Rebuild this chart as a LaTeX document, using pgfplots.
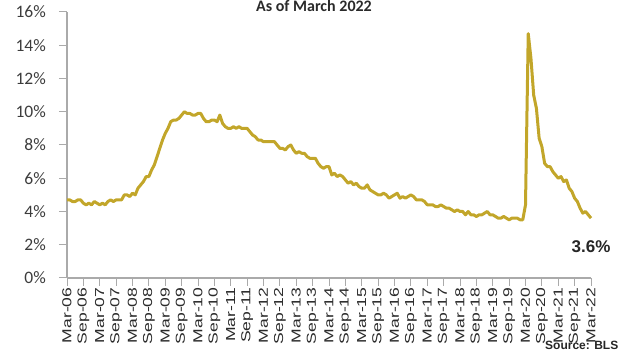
\documentclass[border=0pt]{standalone}
\usepackage{pgfplots}
\pgfplotsset{compat=1.18}
\usepackage{pgfplotstable}
\usepackage{fontspec}
\setmainfont{Liberation Sans}
\newfontfamily\calib{Carlito}
\definecolor{linegold}{RGB}{194,166,42}
\definecolor{axgray}{RGB}{170,170,170}
\definecolor{txt}{RGB}{60,60,60}
\pgfplotstableread{
idx val
0 4.7
1 4.7
2 4.6
3 4.6
4 4.7
5 4.7
6 4.5
7 4.4
8 4.5
9 4.4
10 4.6
11 4.5
12 4.4
13 4.5
14 4.4
15 4.6
16 4.7
17 4.6
18 4.7
19 4.7
20 4.7
21 5.0
22 5.0
23 4.9
24 5.1
25 5.0
26 5.4
27 5.6
28 5.8
29 6.1
30 6.1
31 6.5
32 6.8
33 7.3
34 7.8
35 8.3
36 8.7
37 9.0
38 9.4
39 9.5
40 9.5
41 9.6
42 9.8
43 10.0
44 9.9
45 9.9
46 9.8
47 9.8
48 9.9
49 9.9
50 9.6
51 9.4
52 9.4
53 9.5
54 9.5
55 9.4
56 9.8
57 9.3
58 9.1
59 9.0
60 9.0
61 9.1
62 9.0
63 9.1
64 9.0
65 9.0
66 9.0
67 8.8
68 8.6
69 8.5
70 8.3
71 8.3
72 8.2
73 8.2
74 8.2
75 8.2
76 8.2
77 8.0
78 7.8
79 7.8
80 7.7
81 7.9
82 8.0
83 7.7
84 7.5
85 7.6
86 7.5
87 7.5
88 7.3
89 7.2
90 7.2
91 7.2
92 6.9
93 6.7
94 6.6
95 6.7
96 6.7
97 6.2
98 6.3
99 6.1
100 6.2
101 6.1
102 5.9
103 5.7
104 5.8
105 5.6
106 5.7
107 5.5
108 5.4
109 5.4
110 5.6
111 5.3
112 5.2
113 5.1
114 5.0
115 5.0
116 5.1
117 5.0
118 4.8
119 4.9
120 5.0
121 5.1
122 4.8
123 4.9
124 4.8
125 4.9
126 5.0
127 4.9
128 4.7
129 4.7
130 4.7
131 4.6
132 4.4
133 4.4
134 4.4
135 4.3
136 4.3
137 4.4
138 4.3
139 4.2
140 4.2
141 4.1
142 4.0
143 4.1
144 4.0
145 4.0
146 3.8
147 4.0
148 3.8
149 3.8
150 3.7
151 3.8
152 3.8
153 3.9
154 4.0
155 3.8
156 3.8
157 3.7
158 3.6
159 3.6
160 3.7
161 3.6
162 3.5
163 3.6
164 3.6
165 3.6
166 3.5
167 3.5
168 4.4
169 14.7
170 13.2
171 11.0
172 10.2
173 8.4
174 7.9
175 6.9
176 6.7
177 6.7
178 6.4
179 6.2
180 6.0
181 6.1
182 5.8
183 5.9
184 5.4
185 5.2
186 4.8
187 4.6
188 4.2
189 3.9
190 4.0
191 3.8
192 3.6
}\urate
\begin{document}
\begin{tikzpicture}
\useasboundingbox (0pt,0pt) rectangle (628pt,352pt);
\begin{axis}[
  at={(67pt,74pt)}, anchor=south west,
  scale only axis, width=524pt, height=266pt,
  xmin=0, xmax=192, ymin=0, ymax=16,
  axis x line=bottom, axis y line=left,
  axis line style={axgray, line width=1.3pt, -},
  tick align=outside, major tick length=8pt,
  tick style={axgray, line width=1pt},
  xtick={0,6,...,192},
  xticklabels={Mar-06,Sep-06,Mar-07,Sep-07,Mar-08,Sep-08,Mar-09,Sep-09,Mar-10,Sep-10,Mar-11,Sep-11,Mar-12,Sep-12,Mar-13,Sep-13,Mar-14,Sep-14,Mar-15,Sep-15,Mar-16,Sep-16,Mar-17,Sep-17,Mar-18,Sep-18,Mar-19,Sep-19,Mar-20,Sep-20,Mar-21,Sep-21,Mar-22},
  x tick label style={rotate=90, xscale=1.35, anchor=east, inner sep=1pt, text=txt!70!black, font=\fontsize{13}{13}\selectfont},
  ytick={0,2,...,16},
  yticklabels={0\%,2\%,4\%,6\%,8\%,10\%,12\%,14\%,16\%},
  y tick label style={anchor=east, inner sep=0pt, xshift=-13pt, text=txt, font=\calib\fontsize{17.5}{17.5}\selectfont},
  clip=false,
]
\addplot[linegold, line width=3pt, line join=round, no markers] table[x=idx, y=val] {\urate};
\end{axis}
\node[font=\calib\bfseries\fontsize{16}{16}\selectfont, text=txt!70!black, anchor=base] at (314pt,340pt) {As of March 2022};
\node[font=\bfseries\fontsize{17}{17}\selectfont, text=black!85, anchor=base] at (591pt,99pt) {3.6\%};
\node[font=\bfseries\fontsize{12}{12}\selectfont, text=black!85, anchor=base west, inner sep=0pt] at (545pt,2pt) {Source: BLS};
\end{tikzpicture}
\end{document}
